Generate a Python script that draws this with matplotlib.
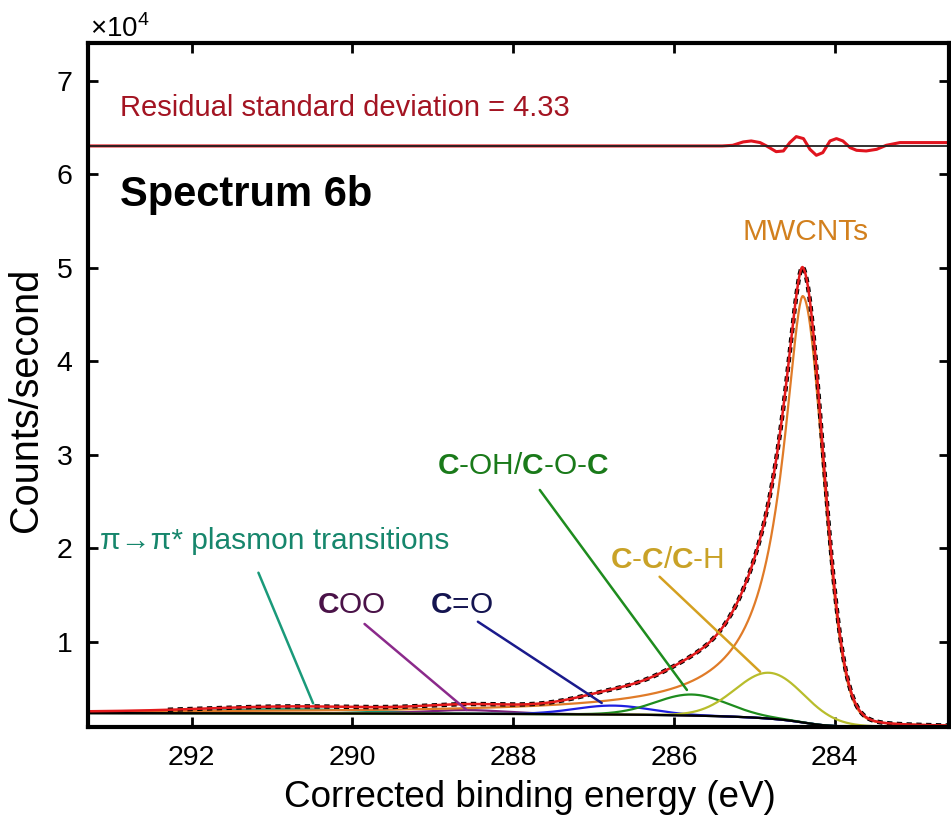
import numpy as np
import matplotlib.pyplot as plt

plt.rcParams['font.family'] = ['Liberation Sans', 'DejaVu Sans']
plt.rcParams['mathtext.fontset'] = 'custom'
plt.rcParams['mathtext.rm'] = 'Liberation Sans'
plt.rcParams['mathtext.bf'] = 'Liberation Sans:bold'

# energy window (eV) and Shirley background end levels (counts/s)
x_left, x_right = 293.29, 282.58
bg_high, bg_low = 2400, 950
data_start = 292.3

# fitted components: centre (eV), height above background, FWHM (eV), Lorentzian fraction
names = ['MWCNTs', 'C-C/C-H', 'C-OH/C-O-C', 'C=O', 'COO', 'pi-pi*']
centres = [284.40, 284.81, 285.78, 286.76, 288.60, 290.80]
heights = [45600, 4900, 2250, 950, 400, 450]
fwhms = [0.60, 1.00, 1.06, 1.10, 1.20, 2.40]
lor_frac = [0.10, 0.0, 0.0, 0.0, 0.0, 0.0]
comp_colors = ['#e07b28', '#b8bd2c', '#1e8c1e', '#1f1fe0', '#7a1f7a', '#1a9a7a']
# asymmetric high-BE tail of the MWCNT peak
tail_hwhm = 0.33
tail_exp = 1.7

# residual (fit - data)
res_offset = 63050
res_energy = [293.29, 285.40, 285.27, 285.14, 285.04, 284.93, 284.85, 284.73, 284.64,
              284.56, 284.48, 284.39, 284.31, 284.23, 284.15, 284.06, 283.98, 283.90,
              283.81, 283.73, 283.61, 283.48, 283.36, 283.19, 282.58]
res_value = [0, 0, 70, 430, 535, 360, 0, -610, -535, 360, 1000, 785, -360, -1000,
             -715, 535, 785, 535, -180, -465, -535, -360, 70, 360, 360]

# annotations: label text, colour, text position, leader start, leader tip
labels = ['MWCNTs', r'$\mathbf{C}$-$\mathbf{C}$/$\mathbf{C}$-H',
          r'$\mathbf{C}$-OH/$\mathbf{C}$-O-$\mathbf{C}$', r'$\mathbf{C}$=O',
          r'$\mathbf{C}$OO', 'π→π* plasmon transitions']
label_colors = ['#d2801e', '#c9a227', '#1a7a1a', '#141450', '#4a1248', '#16866c']
line_colors = [None, '#d4a020', '#1e8c1e', '#1a1a8c', '#8b2a8b', '#1a9a7a']
label_xy = [(284.37, 53850), (286.09, 18770), (287.88, 28820), (288.64, 13960),
            (290.01, 13960), (290.97, 20800)]
lead_from = [None, (286.18, 16980), (287.67, 26260), (288.44, 12170),
             (289.85, 11930), (291.17, 17410)]
lead_to = [None, (284.93, 6820), (285.84, 4870), (286.90, 3480),
           (288.58, 2730), (290.49, 3440)]


def component(E, i):
    x = (E - centres[i]) / (fwhms[i] / 2)
    m = lor_frac[i]
    y = heights[i] * ((1 - m) * np.exp(-np.log(2) * x ** 2) + m / (1 + x ** 2))
    if i == 0:
        xt = np.abs(E - centres[i]) / tail_hwhm
        y = np.where(E > centres[i], heights[i] / (1 + xt ** tail_exp), y)
    return y


E = np.linspace(x_left, x_right, 1500)
comps = [component(E, i) for i in range(len(centres))]
total = np.sum(comps, axis=0)

# Shirley-type background: step follows the integrated peak area
area = np.cumsum(total[::-1])[::-1]
bg = bg_low + (bg_high - bg_low) * area / area[0]
fit = bg + total

fig = plt.figure(figsize=(9.51, 8.21), dpi=100)
ax = fig.add_axes([88 / 951, 1 - 727 / 821, 861 / 951, 684 / 821])

for i in range(len(centres) - 1, -1, -1):
    ax.plot(E, bg + comps[i], color=comp_colors[i], lw=1.6)
ax.plot(E, bg, color='black', lw=1.6)

mask = E <= data_start
ax.plot(E[mask], fit[mask], color='black', lw=3.2, dashes=(1.2, 1.0))
ax.plot(E, fit, color='#e41a1c', lw=1.8)

# residual trace
ax.plot(res_energy, np.array(res_value) + res_offset, color='#e0141e', lw=2.2)
ax.plot([x_left, x_right], [res_offset, res_offset], color='#222222', lw=1.3)

for i in range(len(labels)):
    ax.text(label_xy[i][0], label_xy[i][1], labels[i], color=label_colors[i],
            fontsize=21.5, ha='center', va='center')
    if lead_from[i] is not None:
        ax.annotate('', xy=lead_to[i], xytext=lead_from[i],
                    arrowprops=dict(arrowstyle='-', color=line_colors[i], lw=1.8,
                                    shrinkA=0, shrinkB=0))

ax.text(292.89, 57800, 'Spectrum 6b', fontsize=30, fontweight='bold',
        ha='left', va='center')
ax.text(292.89, 67100, 'Residual standard deviation = 4.33', fontsize=21,
        color='#a31422', ha='left', va='center')

ax.set_xlim(x_left, x_right)
ax.set_ylim(910, 74060)
ax.set_xticks([292, 290, 288, 286, 284])
ax.set_yticks([10000, 20000, 30000, 40000, 50000, 60000, 70000])
ax.set_yticklabels(['1', '2', '3', '4', '5', '6', '7'])
ax.tick_params(direction='in', length=7, width=2, top=True, right=True,
               labelsize=20.5)
ax.tick_params(axis='x', pad=13)
ax.tick_params(axis='y', pad=11)
for s in ax.spines.values():
    s.set_linewidth(3)

ax.set_xlabel('Corrected binding energy (eV)', fontsize=26.5)
ax.set_ylabel('Counts/second', fontsize=28.5)
ax.xaxis.set_label_coords(0.513, -0.078)
ax.yaxis.set_label_coords(-0.050, 0.478)
fig.text(90 / 951, 1 - 37 / 821, r'$\times$10$^4$', fontsize=20, va='baseline')

fig.savefig('out.png', dpi=100)
